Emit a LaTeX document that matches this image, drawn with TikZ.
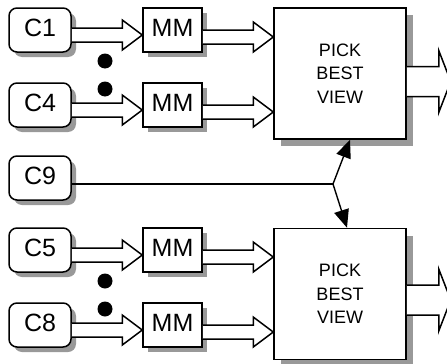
\documentclass[tikz,border=0pt]{standalone}
\usepackage{fontspec}
\setmainfont{Liberation Sans}
\usetikzlibrary{arrows.meta, calc, shadows}

\tikzset{
    box/.style={draw, line width=1.5pt, fill=white, inner sep=0pt,
      drop shadow={shadow xshift=#1, shadow yshift=-#1, fill=black!40, opacity=1}},
    box/.default=5pt,
    cam/.style={box, rounded corners=8pt, minimum width=62pt, minimum height=44pt,
      font=\fontsize{25}{25}\selectfont, text height=18pt, text depth=6pt},
    mm/.style={box, minimum width=59pt, minimum height=44pt,
      font=\fontsize{25}{25}\selectfont, text height=18pt, text depth=6pt},
    pick/.style={box=7pt, minimum width=132pt, minimum height=131pt, align=center,
      font=\fontsize{18}{23.5}\selectfont},
    dot/.style={circle, fill, inner sep=0pt, minimum size=15pt},
    hollow/.style={draw, line width=1.5pt, fill=white, line join=miter},
    feed/.style={line width=1.4pt, -{Triangle[length=18pt, width=15pt]}}
}

\newcommand{\blockarrow}[5]{%
    \draw[hollow] let \p1=(#1), \p2=(#2) in
      (\x1,\y1+#3) -- (\x2-#5,\y1+#3) -- (\x2-#5,\y1+#4) -- (\x2,\y1)
      -- (\x2-#5,\y1-#4) -- (\x2-#5,\y1-#3) -- (\x1,\y1-#3);}

\begin{document}
\begin{tikzpicture}[x=1pt, y=-1pt]
    \useasboundingbox (0,0) rectangle (447,364);

    \node[cam] (c1) at (40,30) {C1};
    \node[cam] (c4) at (40,105) {C4};
    \node[cam] (c9) at (40,178) {C9};
    \node[cam] (c5) at (40,250) {C5};
    \node[cam] (c8) at (40,325) {C8};

    \node[mm] (mm1) at (172.5,30) {MM};
    \node[mm] (mm4) at (172.5,105) {MM};
    \node[mm] (mm5) at (172.5,250) {MM};
    \node[mm] (mm8) at (172.5,325) {MM};

    \node[pick] (best1) at (340,73.5) {PICK\\BEST\\VIEW};
    \node[pick] (best2) at (340,294) {PICK\\BEST\\VIEW};

    \node[dot] (d1) at (105,61) {};
    \node[dot] (d2) at (105,89) {};
    \node[dot] (d3) at (105,281) {};
    \node[dot] (d4) at (105,309) {};

    \blockarrow{[yshift=-5pt]c1.east}{mm1.west}{7pt}{15pt}{20pt}
    \blockarrow{[yshift=-5pt]c4.east}{mm4.west}{7pt}{15pt}{20pt}
    \blockarrow{[yshift=-5pt]c5.east}{mm5.west}{7pt}{15pt}{20pt}
    \blockarrow{[yshift=-5pt]c8.east}{mm8.west}{7pt}{15pt}{20pt}

    \blockarrow{[yshift=-7pt]mm1.east}{best1.west}{7pt}{15pt}{20pt}
    \blockarrow{[yshift=-7pt]mm4.east}{best1.west}{7pt}{15pt}{20pt}
    \blockarrow{[yshift=-7pt]mm5.east}{best2.west}{7pt}{15pt}{20pt}
    \blockarrow{[yshift=-7pt]mm8.east}{best2.west}{7pt}{15pt}{20pt}

    \coordinate (out1) at ([xshift=44pt]best1.east);
    \coordinate (out2) at ([xshift=44pt]best2.east);
    \blockarrow{[yshift=-8pt]best1.east}{out1}{15pt}{31pt}{12pt}
    \blockarrow{[yshift=-6pt]best2.east}{out2}{15pt}{31pt}{12pt}

    \coordinate (split) at (333,184);
    \draw[line width=1.2pt] ([yshift=-6pt]c9.east) -- (split);
    \draw[feed] (split) -- ([xshift=10pt]best1.south);
    \draw[feed] (split) -- ([xshift=7pt]best2.north);
\end{tikzpicture}
\end{document}
